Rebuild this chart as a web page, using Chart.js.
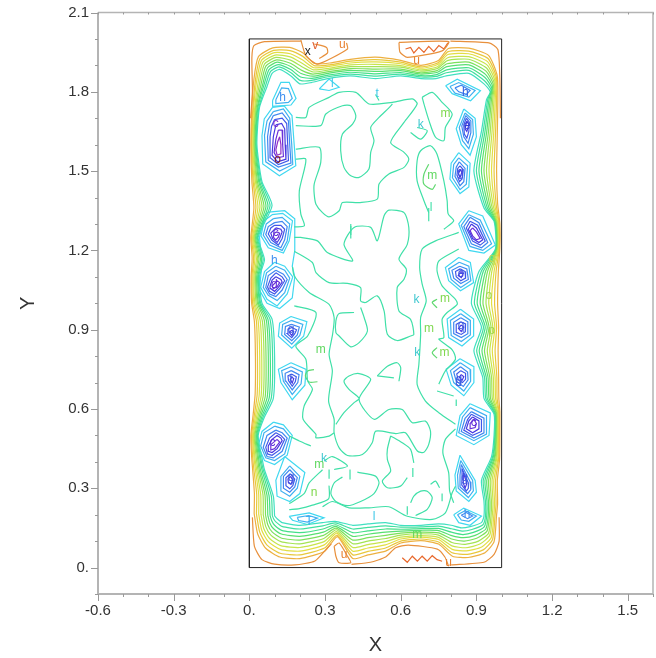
<!DOCTYPE html>
<html>
<head>
<meta charset="utf-8">
<title>Contour</title>
<script src="https://cdn.jsdelivr.net/npm/chart.js@4"></script>
<style>
body { margin: 0; background: #fff; }
</style>
</head>
<body>
<canvas id="chart" width="656" height="658"></canvas>
<script>
// axis ranges and labelled ticks
const xMin = -0.6, xMax = 1.6, yMin = -0.1, yMax = 2.1;
const xMajor = [-0.6, -0.3, 0, 0.3, 0.6, 0.9, 1.2, 1.5];
const yMajor = [0, 0.3, 0.6, 0.9, 1.2, 1.5, 1.8, 2.1];

const domainBox = [0,0, 1,0, 1,2, 0,2];

const edge0 = [
  [.204,1.992,.06,1.99,.018,1.975,.01,1.93,.012,1.8,.005,1.7],
  [.797,1.992,.95,1.985,.985,1.96,.993,1.85,.995,1.7],
  [.012,.19,.02,.08,.05,.03,.1,.013,.18,.01,.26,.025,.31,.075,.325,.09],
  [.405,.012,.48,.02,.54,.04,.58,.075,.63,.085,.745,.07,.775,.04,.79,.005],
  [.8,.01,.93,.02,.97,.05,.99,.1,.99,.19],
  [.204,1.996,.224,1.937,.27,1.905,.389,1.962,.385,1.985],
  [.257,1.981,.306,1.968,.31,1.947,.277,1.926],
  [.593,1.987,.79,1.99,.764,1.955,.626,1.93,.597,1.95,.593,1.987],
  [.336,.081,.356,.093,.389,.043,.402,.018,.356,.018,.343,.043,.336,.081]
];
const edgeRed = [
  [.619,1.962,.639,1.968,.652,1.947,.672,1.968,.692,1.949,.711,1.972,.731,1.952,.751,1.975,.771,1.962,.787,1.985],
  [.606,.037,.626,.02,.646,.043,.666,.024,.685,.043,.705,.024,.725,.045,.744,.03,.764,.024]
];
const edge1 = [[.019,.204,.020,.279,.013,.37,.009,.42,.006,.5,.015,.579,.023,.658,.024,.8,.02,.931,.009,1,.007,1.1,.011,1.17,.006,1.25,.018,1.361,.01,1.46,.006,1.6,.009,1.722,.018,1.847,.036,1.933,.093,1.966,.16,1.968,.213,1.947,.258,1.907,.319,1.909,.4,1.923,.5,1.931,.6,1.919,.68,1.9,.749,1.918,.789,1.964,.87,1.965,.948,1.938,.982,1.863,.985,1.779,.983,1.65,.98,1.5,.984,1.378,.993,1.301,.993,1.21,.987,1.12,.984,1,.988,.91,.986,.82,.988,.72,.989,.64,.993,.589,.993,.5,.992,.411,.983,.33,.984,.241,.98,.2,.97,.098,.934,.056,.867,.038,.805,.043,.75,.089,.68,.102,.6,.093,.54,.062,.47,.048,.41,.034,.349,.117,.299,.062,.2,.034,.121,.04,.065,.073,.033,.127]];
const edge2 = [[.028,.203,.029,.278,.018,.37,.013,.419,.009,.5,.02,.578,.031,.656,.032,.8,.028,.932,.013,1,.01,1.1,.017,1.169,.009,1.25,.026,1.362,.015,1.46,.008,1.6,.013,1.724,.024,1.844,.042,1.926,.096,1.957,.161,1.956,.212,1.934,.257,1.899,.318,1.902,.4,1.916,.5,1.922,.6,1.912,.68,1.894,.748,1.91,.788,1.952,.87,1.954,.946,1.926,.979,1.856,.98,1.778,.976,1.65,.97,1.5,.978,1.376,.99,1.302,.991,1.209,.978,1.12,.972,1,.98,.91,.974,.82,.981,.72,.982,.64,.99,.588,.99,.5,.988,.412,.976,.33,.978,.242,.974,.199,.964,.106,.927,.067,.864,.05,.804,.056,.75,.097,.68,.108,.6,.1,.54,.074,.47,.061,.41,.048,.348,.123,.298,.074,.2,.048,.122,.054,.07,.085,.041,.134]];
const edge3 = [[.037,.202,.037,.277,.024,.37,.018,.419,.013,.5,.025,.577,.039,.654,.041,.8,.035,.933,.018,1,.014,1.1,.022,1.169,.013,1.25,.034,1.363,.019,1.46,.011,1.6,.016,1.726,.029,1.841,.048,1.919,.099,1.948,.162,1.944,.21,1.921,.256,1.891,.317,1.896,.4,1.909,.5,1.913,.6,1.906,.68,1.889,.747,1.903,.787,1.941,.87,1.944,.944,1.914,.976,1.849,.975,1.777,.969,1.65,.96,1.5,.972,1.374,.988,1.303,.989,1.209,.97,1.12,.96,1,.973,.91,.963,.82,.974,.72,.976,.64,.988,.587,.988,.5,.985,.413,.969,.33,.972,.243,.969,.199,.959,.114,.921,.078,.861,.063,.804,.069,.75,.106,.68,.115,.6,.108,.54,.086,.47,.074,.41,.062,.347,.13,.297,.086,.2,.062,.123,.069,.075,.098,.049,.141]];
const edge4 = [[.046,.201,.045,.276,.029,.37,.022,.418,.016,.5,.03,.576,.047,.652,.049,.8,.043,.934,.022,1,.018,1.1,.028,1.168,.016,1.25,.042,1.364,.024,1.46,.014,1.6,.02,1.728,.035,1.838,.054,1.912,.102,1.939,.162,1.932,.209,1.908,.254,1.883,.316,1.889,.4,1.902,.5,1.904,.6,1.899,.68,1.883,.746,1.895,.786,1.929,.87,1.933,.942,1.902,.973,1.842,.97,1.776,.962,1.65,.95,1.5,.966,1.372,.985,1.304,.987,1.208,.961,1.12,.949,1,.965,.91,.953,.82,.967,.72,.969,.64,.985,.586,.985,.5,.981,.414,.962,.33,.966,.244,.963,.198,.953,.122,.914,.089,.858,.075,.803,.082,.75,.114,.68,.121,.6,.115,.54,.098,.47,.087,.41,.076,.346,.136,.296,.098,.2,.076,.124,.083,.08,.11,.057,.148]];
const edge5 = [[.055,.2,.054,.275,.034,.37,.027,.418,.019,.5,.035,.575,.055,.65,.058,.8,.051,.935,.027,1,.022,1.1,.033,1.168,.019,1.25,.05,1.365,.028,1.46,.017,1.6,.023,1.73,.041,1.835,.06,1.905,.105,1.93,.163,1.92,.208,1.895,.253,1.875,.315,1.883,.4,1.895,.5,1.895,.6,1.893,.68,1.878,.745,1.888,.785,1.918,.87,1.923,.94,1.89,.97,1.835,.965,1.775,.955,1.65,.94,1.5,.96,1.37,.983,1.305,.985,1.208,.953,1.12,.938,1,.958,.91,.943,.82,.96,.72,.963,.64,.983,.585,.983,.5,.978,.415,.955,.33,.96,.245,.958,.198,.948,.13,.908,.1,.855,.088,.803,.095,.75,.123,.68,.128,.6,.123,.54,.11,.47,.1,.41,.09,.345,.143,.295,.11,.2,.09,.125,.098,.085,.123,.065,.155]];
const edge6 = [[.064,.199,.062,.274,.039,.37,.032,.417,.022,.5,.04,.574,.063,.648,.066,.8,.059,.936,.032,1,.025,1.1,.038,1.167,.022,1.25,.058,1.366,.032,1.46,.019,1.6,.026,1.732,.047,1.832,.066,1.898,.108,1.921,.163,1.908,.206,1.882,.251,1.867,.314,1.876,.4,1.888,.5,1.886,.6,1.886,.68,1.872,.744,1.88,.784,1.906,.87,1.912,.938,1.878,.967,1.828,.96,1.774,.948,1.65,.93,1.5,.954,1.368,.98,1.306,.983,1.207,.944,1.12,.926,1,.95,.91,.932,.82,.953,.72,.956,.64,.98,.584,.98,.5,.974,.416,.948,.33,.954,.246,.952,.197,.942,.138,.901,.111,.852,.1,.802,.108,.75,.131,.68,.134,.6,.13,.54,.122,.47,.113,.41,.104,.344,.149,.294,.122,.2,.104,.126,.112,.09,.135,.073,.162]];
const edge7 = [[.073,.198,.07,.273,.044,.37,.036,.417,.026,.5,.045,.573,.071,.646,.075,.8,.067,.937,.036,1,.029,1.1,.044,1.167,.025,1.25,.066,1.367,.037,1.46,.022,1.6,.03,1.734,.053,1.829,.072,1.891,.111,1.912,.164,1.896,.205,1.869,.25,1.859,.313,1.87,.4,1.881,.5,1.877,.6,1.88,.68,1.867,.743,1.873,.783,1.895,.87,1.902,.936,1.866,.964,1.821,.955,1.773,.941,1.65,.92,1.5,.948,1.366,.978,1.307,.981,1.207,.936,1.12,.915,1,.943,.91,.922,.82,.946,.72,.95,.64,.978,.583,.978,.5,.971,.417,.941,.33,.948,.247,.947,.197,.937,.146,.895,.122,.849,.113,.802,.121,.75,.14,.68,.141,.6,.138,.54,.134,.47,.126,.41,.118,.343,.156,.293,.134,.2,.118,.127,.127,.095,.148,.081,.169]];
const edge8 = [[.082,.197,.078,.272,.05,.37,.041,.416,.029,.5,.05,.572,.079,.644,.083,.8,.074,.938,.041,1,.033,1.1,.049,1.166,.029,1.25,.074,1.368,.041,1.46,.025,1.6,.033,1.736,.058,1.826,.078,1.884,.114,1.903,.164,1.884,.203,1.856,.248,1.851,.312,1.863,.4,1.874,.5,1.868,.6,1.873,.68,1.861,.742,1.865,.782,1.883,.87,1.891,.934,1.854,.961,1.814,.95,1.772,.934,1.65,.91,1.5,.942,1.364,.975,1.308,.979,1.206,.927,1.12,.903,1,.935,.91,.911,.82,.939,.72,.943,.64,.975,.582,.975,.5,.967,.418,.934,.33,.942,.248,.941,.196,.931,.154,.888,.133,.846,.125,.801,.134,.75,.148,.68,.147,.6,.145,.54,.146,.47,.139,.41,.132,.342,.162,.292,.146,.2,.132,.128,.141,.1,.16,.089,.176]];
const edge9 = [[.091,.196,.087,.271,.055,.37,.045,.416,.032,.5,.055,.571,.087,.642,.092,.8,.082,.939,.045,1,.036,1.1,.055,1.166,.032,1.25,.082,1.369,.046,1.46,.027,1.6,.037,1.738,.064,1.823,.084,1.877,.117,1.894,.165,1.872,.202,1.843,.247,1.843,.311,1.857,.4,1.867,.5,1.859,.6,1.867,.68,1.856,.741,1.858,.781,1.872,.87,1.881,.932,1.842,.958,1.807,.945,1.771,.927,1.65,.9,1.5,.936,1.362,.973,1.309,.977,1.206,.919,1.12,.892,1,.928,.91,.901,.82,.932,.72,.937,.64,.973,.581,.973,.5,.964,.419,.927,.33,.936,.249,.936,.196,.926,.162,.882,.144,.843,.138,.801,.147,.75,.157,.68,.154,.6,.153,.54,.158,.47,.152,.41,.146,.341,.169,.291,.158,.2,.146,.129,.156,.105,.173,.097,.183]];
const edge10 = [[.10,.195,.095,.27,.06,.37,.05,.415,.035,.5,.06,.57,.095,.64,.1,.8,.09,.94,.05,1,.04,1.1,.06,1.165,.035,1.25,.09,1.37,.05,1.46,.03,1.6,.04,1.74,.07,1.82,.09,1.87,.12,1.885,.165,1.86,.2,1.83,.245,1.835,.31,1.85,.4,1.86,.5,1.85,.6,1.86,.68,1.85,.74,1.85,.78,1.86,.87,1.87,.93,1.83,.955,1.8,.94,1.77,.92,1.65,.89,1.5,.93,1.36,.97,1.31,.975,1.205,.91,1.12,.88,1,.92,.91,.89,.82,.925,.72,.93,.64,.97,.58,.97,.5,.96,.42,.92,.33,.93,.25,.93,.195,.92,.17,.875,.155,.84,.15,.80,.16,.75,.165,.68,.16,.6,.16,.54,.17,.47,.165,.41,.16,.34,.175,.29,.17,.2,.16,.13,.17,.11,.185,.105,.19]];

// the meandering lines in the middle of the box
const inner = [
  [.184,1.703,.224,1.703,.237,1.741,.316,1.779,.356,1.798,.422,1.798,.474,1.754,.567,1.76,.646,1.773,.665,1.754,.613,1.684,.56,1.608,.613,1.571,.632,1.545,.613,1.514,.553,1.489,.514,1.451,.507,1.394,.435,1.381,.369,1.381,.356,1.35,.316,1.327,.29,1.343,.264,1.375,.257,1.413,.257,1.451,.283,1.533,.277,1.59,.184,1.583],
  [.184,1.672,.283,1.672,.303,1.716,.369,1.747,.402,1.747,.422,1.71,.409,1.678,.369,1.64,.362,1.577,.375,1.514,.402,1.482,.435,1.476,.474,1.508,.481,1.571,.494,1.615,.481,1.665,.514,1.703,.553,1.739,.567,1.754],
  [.184,1.545,.224,1.545,.198,1.425,.204,1.337,.218,1.293,.178,1.289],
  [.685,1.779,.725,1.798,.764,1.76,.804,1.716,.777,1.665,.771,1.615,.738,1.628,.712,1.691,.692,1.754,.685,1.779],
  [.711,1.343,.692,1.388,.665,1.463,.665,1.539,.679,1.577,.718,1.596,.744,1.564,.771,1.463,.784,1.388,.788,1.338,.81,1.312,.771,1.28],
  [.83,1.268,.738,1.236,.685,1.205,.675,1.135,.685,1.072,.701,1.009,.679,.946,.679,.883,.672,.769,.665,.693,.698,.63,.751,.586,.817,.542],
  [.178,1.249,.204,1.249,.27,1.236,.309,1.192,.409,1.16,.375,1.223,.415,1.287,.481,1.287,.507,1.236,.534,1.331,.553,1.352,.613,1.343,.632,1.287,.626,1.223,.593,1.167,.622,1.129,.613,1.091,.586,1.059,.593,.971,.639,.939,.652,.882,.639,.876,.586,.859,.547,.883,.534,.971,.507,1.028,.461,1.003,.441,1.009,.441,1.059,.389,1.075,.316,1.078,.264,1.116,.25,1.154,.178,1.197],
  [.171,1.138,.178,1.103,.237,1.041,.316,.996,.336,.946,.33,.883,.316,.807,.329,.744,.314,.63,.336,.561,.336,.51,.356,.453,.389,.424,.448,.428,.487,.472,.501,.516,.58,.507,.619,.51,.666,.441,.692,.436,.711,.466,.718,.516,.698,.554,.646,.548,.606,.598,.553,.598,.494,.561,.435,.636,.481,.712,.435,.734,.395,.725,.375,.706,.395,.674,.435,.64,.415,.624,.375,.586,.343,.542],
  [.178,.99,.264,.965,.231,.876,.184,.838,.224,.788,.231,.706,.25,.674,.217,.611,.213,.561,.264,.504,.264,.491,.316,.497,.336,.51],
  [.158,.498,.198,.479,.244,.46],
  [.415,.965,.356,.961,.343,.933,.343,.889,.356,.876,.402,.835,.435,.851,.468,.895,.455,.946,.441,.984],
  [.507,.725,.547,.762,.586,.775,.6,.756,.593,.705],
  [.507,.725,.573,.718],
  [.56,.498,.547,.447,.547,.409,.56,.365,.527,.327,.547,.302,.599,.308,.626,.34],
  [.56,.498,.606,.472,.639,.447,.652,.396],
  [.648,.377,.648,.343],
  [.369,.343,.336,.32,.323,.28,.343,.25,.389,.234,.441,.25,.494,.28,.514,.32,.5,.346,.428,.361],
  [.399,.371,.399,.333],
  [.316,.371,.316,.336],
  [.296,.403,.329,.42,.389,.384,.336,.371],
  [.29,.37,.237,.32,.217,.28,.158,.242],
  [.316,.31,.314,.26,.25,.236,.198,.223,.158,.219],
  [.29,.23,.329,.25,.395,.226,.474,.226,.553,.23,.626,.194,.725,.182,.777,.207,.804,.283,.817,.308],
  [.817,.525,.777,.485,.767,.434,.79,.359,.794,.289,.81,.245],
  [.639,.245,.652,.27,.679,.289,.705,.289,.725,.264,.705,.22,.659,.197],
  [.626,.232,.626,.2],
  [.718,.315,.738,.327,.754,.302],
  [.764,.28,.764,.251],
  [.639,1.646,.679,1.621,.705,1.653,.665,1.665],
  [.83,1.205,.751,1.16,.744,1.122,.764,1.066,.817,1.015,.824,.996,.784,.965,.764,.939,.771,.87,.751,.864,.804,.824,.817,.788,.777,.744,.751,.694],
  [.744,.668,.81,.649],
  [.82,.636,.82,.611],
  [.711,1.36,.711,1.31],
  [.402,1.3,.402,1.245],
  [.5,1.79,.514,1.767]
];
const innerGreen = [
  [.711,1.526,.692,1.488,.692,1.45,.725,1.431,.738,1.45],
  [.256,.749,.231,.744,.222,.725,.237,.702,.27,.703],
  [.744,.832,.725,.813,.744,.792],
  [.744,1.015,.725,1.003,.744,.983]
];

// rings around the peaks, outside to inside
const ring1 = [
  [.092,1.741,.138,1.747,.169,1.71,.178,1.596,.184,1.52,.119,1.482,.053,1.527,.05,1.634,.059,1.697],
  [.09,1.335,.132,1.34,.171,1.312,.158,1.236,.135,1.19,.075,1.21,.046,1.255,.059,1.312],
  [.1,1.155,.14,1.14,.172,1.1,.15,1.035,.11,.99,.07,1.015,.045,1.06,.06,1.12],
  [.095,.55,.135,.54,.17,.5,.15,.425,.1,.39,.06,.405,.035,.46,.05,.515],
  [.87,1.35,.925,1.33,.975,1.22,.93,1.19,.87,1.2,.83,1.3],
  [.875,.62,.955,.585,.95,.5,.89,.465,.82,.5,.835,.575],
  [.165,.95,.228,.93,.215,.875,.168,.83,.115,.875,.12,.925],
  [.165,.775,.225,.75,.22,.69,.17,.635,.125,.7,.115,.75],
  [.14,.42,.22,.36,.2,.28,.16,.25,.11,.27,.105,.33],
  [.85,1.735,.895,1.7,.9,1.63,.875,1.56,.84,1.6,.82,1.66],
  [.83,1.57,.875,1.53,.87,1.44,.835,1.415,.795,1.47,.8,1.53],
  [.83,1.173,.876,1.154,.889,1.078,.837,1.047,.79,1.085,.777,1.135],
  [.837,.977,.889,.94,.889,.876,.843,.838,.79,.87,.784,.94],
  [.835,.79,.89,.76,.89,.7,.85,.65,.8,.69,.78,.75],
  [.835,.425,.895,.33,.9,.285,.87,.25,.82,.29,.815,.35],
  [.81,.2,.85,.225,.92,.195,.875,.16,.83,.17],
  [.778,1.823,.824,1.848,.916,1.804,.877,1.766,.804,1.793],
  [.092,1.767,.125,1.836,.158,1.836,.185,1.775,.165,1.75,.09,1.745],
  [.158,.194,.237,.207,.296,.188,.23,.163,.171,.179],
  [.277,1.811,.316,1.848,.356,1.817,.316,1.805],
  [.075,1.345,.14,1.35,.18,1.32,.18,1.2,.17,1.14,.18,1.1,.17,1.02,.12,.98,.07,1,.04,1.05,.05,1.15,.04,1.25,.06,1.33]
];
const ring2 = [
  [.095,1.725,.135,1.735,.16,1.7,.168,1.6,.172,1.525,.12,1.5,.065,1.535,.06,1.635,.07,1.69],
  [.095,1.32,.13,1.325,.16,1.3,.15,1.235,.13,1.2,.08,1.22,.055,1.258,.067,1.3],
  [.105,1.14,.14,1.125,.16,1.095,.14,1.04,.11,1.01,.075,1.03,.055,1.06,.068,1.115],
  [.1,.535,.135,.525,.16,.495,.14,.43,.1,.405,.065,.415,.045,.46,.058,.51],
  [.87,1.335,.915,1.315,.96,1.225,.925,1.2,.875,1.215,.84,1.295],
  [.875,.605,.94,.575,.94,.505,.89,.48,.83,.51,.845,.57],
  [.166,.935,.212,.92,.2,.878,.168,.845,.128,.88,.132,.92],
  [.165,.76,.21,.74,.205,.695,.17,.655,.135,.705,.128,.745],
  [.16,.385,.2,.345,.19,.3,.16,.27,.125,.29,.125,.345],
  [.855,1.72,.885,1.695,.888,1.64,.87,1.585,.845,1.615,.832,1.665],
  [.83,1.55,.865,1.52,.86,1.45,.835,1.43,.805,1.475,.81,1.525],
  [.832,1.155,.87,1.14,.878,1.085,.838,1.06,.8,1.09,.79,1.13],
  [.838,.96,.876,.935,.876,.88,.84,.855,.8,.878,.797,.935],
  [.836,.775,.875,.75,.877,.705,.85,.668,.81,.7,.797,.745],
  [.838,.405,.885,.33,.888,.29,.868,.265,.828,.3,.825,.35],
  [.825,.2,.855,.215,.9,.195,.87,.175,.84,.18],
  [.795,1.82,.83,1.835,.895,1.805,.87,1.78,.815,1.795],
  [.105,1.77,.128,1.815,.155,1.812,.17,1.775,.155,1.76,.105,1.755],
  [.19,.19,.235,.197,.27,.187,.23,.172,.195,.178]
];
const ring3 = [
  [.095,1.71,.13,1.72,.155,1.69,.16,1.6,.165,1.53,.115,1.515,.075,1.54,.072,1.63,.08,1.68],
  [.1,1.305,.13,1.31,.15,1.29,.14,1.24,.125,1.21,.085,1.23,.065,1.26,.075,1.29],
  [.105,1.125,.135,1.11,.15,1.09,.13,1.05,.105,1.025,.08,1.035,.065,1.06,.075,1.105],
  [.105,.52,.13,.51,.15,.49,.13,.44,.095,.415,.07,.42,.055,.455,.07,.5],
  [.875,1.325,.91,1.305,.945,1.23,.92,1.21,.88,1.225,.85,1.29],
  [.88,.59,.93,.565,.93,.51,.89,.49,.84,.515,.855,.565],
  [.167,.92,.198,.91,.19,.88,.168,.858,.14,.882,.143,.912],
  [.166,.745,.197,.73,.192,.7,.17,.672,.145,.705,.142,.735],
  [.16,.37,.19,.34,.18,.305,.16,.285,.135,.3,.135,.345],
  [.858,1.71,.878,1.69,.878,1.645,.867,1.605,.85,1.63,.842,1.67],
  [.832,1.535,.855,1.51,.85,1.46,.835,1.445,.815,1.48,.82,1.515],
  [.834,1.14,.862,1.13,.868,1.09,.838,1.075,.81,1.095,.803,1.125],
  [.838,.945,.866,.93,.866,.885,.84,.87,.81,.885,.81,.928],
  [.837,.76,.865,.74,.867,.71,.848,.685,.82,.705,.81,.74],
  [.84,.39,.875,.325,.878,.295,.865,.28,.835,.305,.835,.35],
  [.84,.198,.86,.208,.885,.195,.865,.185],
  [.815,1.815,.84,1.825,.875,1.805,.86,1.79,.83,1.8]
];
const ring4 = [
  [.1,1.695,.13,1.7,.148,1.68,.152,1.6,.155,1.54,.115,1.525,.083,1.55,.082,1.63,.088,1.67],
  [.1,1.295,.125,1.295,.14,1.28,.13,1.245,.115,1.22,.09,1.238,.075,1.262,.085,1.285],
  [.105,1.115,.13,1.1,.14,1.085,.12,1.055,.1,1.035,.08,1.045,.072,1.062,.085,1.095],
  [.105,.51,.125,.5,.14,.485,.12,.445,.09,.425,.072,.43,.065,.455,.08,.49],
  [.875,1.31,.905,1.295,.935,1.235,.915,1.22,.885,1.235,.86,1.285],
  [.88,.58,.92,.56,.92,.515,.885,.5,.85,.52,.865,.56],
  [.168,.908,.187,.9,.18,.885,.168,.87,.15,.885,.153,.902],
  [.167,.732,.186,.722,.182,.703,.17,.686,.155,.708,.153,.725],
  [.162,.355,.18,.335,.172,.31,.16,.298,.145,.31,.145,.34],
  [.86,1.7,.872,1.685,.87,1.65,.862,1.625,.852,1.64,.85,1.675],
  [.835,1.52,.848,1.505,.843,1.47,.833,1.46,.823,1.485,.826,1.51],
  [.836,1.13,.855,1.12,.857,1.095,.838,1.085,.82,1.1,.817,1.12],
  [.838,.93,.857,.922,.856,.892,.84,.882,.82,.89,.82,.92],
  [.838,.745,.857,.735,.857,.712,.845,.7,.828,.71,.822,.732],
  [.843,.375,.868,.32,.868,.3,.86,.29,.842,.312,.843,.35]
];
const ring5 = [
  [.105,1.675,.128,1.68,.14,1.66,.142,1.6,.145,1.545,.112,1.535,.09,1.56,.095,1.63],
  [.105,1.285,.125,1.28,.13,1.27,.12,1.245,.11,1.23,.092,1.245,.085,1.265],
  [.105,1.1,.125,1.09,.13,1.08,.115,1.06,.1,1.045,.085,1.055,.082,1.065,.09,1.088],
  [.11,.5,.125,.49,.13,.48,.11,.45,.09,.435,.075,.44,.075,.46,.09,.485],
  [.88,1.3,.9,1.285,.925,1.24,.91,1.23,.885,1.245,.868,1.28],
  [.885,.57,.91,.555,.91,.525,.885,.51,.86,.525,.87,.555],
  [.168,.898,.176,.893,.168,.878,.158,.89],
  [.168,.72,.176,.715,.17,.698,.162,.712],
  [.163,.345,.172,.332,.165,.315,.155,.32,.153,.335],
  [.862,1.69,.87,1.675,.862,1.65,.855,1.66],
  [.836,1.507,.842,1.495,.835,1.475,.829,1.49],
  [.838,1.12,.848,1.112,.84,1.097,.828,1.105],
  [.84,.918,.85,.91,.84,.893,.829,.905],
  [.84,.73,.85,.722,.843,.708,.832,.72],
  [.848,.36,.862,.318,.855,.3,.848,.32]
];
const ring6 = [
  [.115,1.655,.13,1.655,.132,1.6,.135,1.555,.11,1.55,.098,1.57,.105,1.62],
  [.11,1.27,.12,1.265,.115,1.25,.105,1.24,.095,1.25,.098,1.265],
  [.11,1.085,.12,1.078,.11,1.062,.095,1.055,.09,1.065],
  [.11,.485,.12,.475,.1,.45,.085,.445,.085,.465],
  [.885,1.285,.9,1.27,.915,1.245,.9,1.24,.885,1.255,.875,1.275],
  [.89,.56,.9,.545,.895,.53,.875,.525,.875,.545]
];
const ring7 = [
  [.12,1.63,.125,1.6,.125,1.565,.11,1.56,.105,1.58,.112,1.61]
];

// contour letters
const labelText = ['h','c','o','x','v','u','u','l','t','h','m','k','m','l','e','g','h','c','d','q','m','f','e','k','m','q','m','k','m','o','p','q','g','c','g','k','m','l','n','T','l','u','d','c','g','h','m','u'];
const labelX = [.132,.105,.112,.231,.261,.369,.663,.329,.507,.856,.777,.679,.725,.72,.863,.837,.099,.105,.099,.165,.283,.165,.839,.663,.775,.839,.712,.665,.774,.949,.96,.962,.83,.092,.165,.296,.277,.402,.257,.237,.494,.375,.829,.889,.853,.863,.665,.79];
const labelY = [1.779,1.678,1.542,1.952,1.975,1.979,1.918,1.83,1.792,1.798,1.716,1.675,1.482,1.36,1.672,1.495,1.16,1.268,1.072,.9,.826,.712,1.11,1.015,1.017,.914,.905,.813,.813,1.03,.895,1.167,.712,.472,.34,.412,.39,1.27,.283,.175,.194,.049,.70,.548,.34,.2,.125,.018];
const labelColor = ['#4090f0','#8030d0','#802020','#222222','#e06030','#e88030','#e88030','#40c8e8','#40c8e8','#3060e0','#80d850','#40c8d0','#60d860','#40e0a8','#3040d8','#4050e0','#4090f0','#6030d8','#6030d8','#4060e0','#60d860','#4060e0','#4050e0','#40c8d0','#80d850','#4060e0','#80d850','#40c8d0','#80d850','#a0d850','#a0d850','#c0d850','#4060e0','#6030d8','#4060e0','#40c8d0','#60d860','#40e0a8','#80d850','#40b0f0','#40c8e8','#e88030','#4060e0','#6030d8','#4060e0','#4090f0','#60d860','#e88030'];

const groups = [
  { lines: edge0, color: '#e8903c', closed: false, tension: 0.2 },
  { lines: edgeRed, color: '#e8682c', closed: false, tension: 0 },
  { lines: edge1, color: '#edb040', closed: true, tension: 0.2 },
  { lines: edge2, color: '#e8c83c', closed: true, tension: 0.2 },
  { lines: edge3, color: '#e2de44', closed: true, tension: 0.2 },
  { lines: edge4, color: '#c8e44c', closed: true, tension: 0.2 },
  { lines: edge5, color: '#a4e454', closed: true, tension: 0.2 },
  { lines: edge6, color: '#7ce05c', closed: true, tension: 0.2 },
  { lines: edge7, color: '#58e070', closed: true, tension: 0.2 },
  { lines: edge8, color: '#44e088', closed: true, tension: 0.2 },
  { lines: edge9, color: '#40e0a0', closed: true, tension: 0.2 },
  { lines: edge10, color: '#40e0c0', closed: true, tension: 0.2 },
  { lines: inner, color: '#40e0a8', closed: false, tension: 0.25 },
  { lines: innerGreen, color: '#60d870', closed: false, tension: 0.25 },
  { lines: ring1, color: '#40d8f0', closed: true, tension: 0 },
  { lines: ring2, color: '#40b0f0', closed: true, tension: 0 },
  { lines: ring3, color: '#4088f0', closed: true, tension: 0 },
  { lines: ring4, color: '#4058e8', closed: true, tension: 0 },
  { lines: ring5, color: '#4838e0', closed: true, tension: 0 },
  { lines: ring6, color: '#6a30d8', closed: true, tension: 0 },
  { lines: ring7, color: '#9030c8', closed: true, tension: 0 }
];

function toPoints(flat, closed) {
  var pts = [];
  for (var i = 0; i < flat.length; i += 2) {
    pts.push({ x: flat[i], y: flat[i + 1] });
  }
  if (closed) pts.push(pts[0]);
  return pts;
}

var datasets = [];
groups.forEach(function(g) {
  g.lines.forEach(function(flat) {
    datasets.push({ data: toPoints(flat, g.closed), borderColor: g.color, borderWidth: 1.2, tension: g.tension });
  });
});
datasets.push({ data: toPoints(domainBox, true), borderColor: '#222222', borderWidth: 1, tension: 0 });

function isMajor(v, list) {
  return list.some(function(m) { return Math.abs(m - v) < 1e-6; });
}

// mathematica style frame: minor ticks at every 0.1, letters on the contours
const framePlugin = {
  id: 'framePlugin',
  afterDraw: function(chart) {
    var c = chart.ctx, a = chart.chartArea;
    var sx = chart.scales.x, sy = chart.scales.y;
    c.save();
    c.strokeStyle = '#b4b4b4';
    c.lineWidth = 2;
    c.beginPath();
    c.moveTo(a.left, a.top); c.lineTo(a.left, a.bottom); c.lineTo(a.right, a.bottom);
    c.stroke();
    c.lineWidth = 1.5;
    c.beginPath();
    c.moveTo(a.left, a.top); c.lineTo(a.right, a.top); c.lineTo(a.right, a.bottom);
    c.stroke();
    c.lineWidth = 1;
    c.strokeStyle = '#999999';
    c.beginPath();
    for (var i = 0; i <= 22; i++) {
      var xv = xMin + i * 0.1, yv = yMin + i * 0.1;
      var px = Math.round(sx.getPixelForValue(xv)) + 0.5, py = Math.round(sy.getPixelForValue(yv)) + 0.5;
      var lx = isMajor(xv, xMajor) ? 7 : 3, ly = isMajor(yv, yMajor) ? 7 : 3;
      c.moveTo(px, a.bottom); c.lineTo(px, a.bottom + lx);
      c.moveTo(px, a.top); c.lineTo(px, a.top + 2);
      c.moveTo(a.left, py); c.lineTo(a.left - ly, py);
    }
    c.stroke();
    c.font = '12px "Liberation Sans"';
    c.textAlign = 'center';
    c.textBaseline = 'middle';
    labelText.forEach(function(t, i) {
      c.fillStyle = labelColor[i];
      c.fillText(t, sx.getPixelForValue(labelX[i]), sy.getPixelForValue(labelY[i]));
    });
    c.restore();
  }
};

new Chart(document.getElementById('chart'), {
  type: 'scatter',
  data: { datasets: datasets },
  plugins: [framePlugin],
  options: {
    responsive: false,
    animation: false,
    showLine: true,
    layout: { padding: { top: 12.5, right: 3 } },
    elements: { point: { radius: 0 } },
    plugins: { legend: { display: false }, tooltip: { enabled: false } },
    scales: {
      x: {
        type: 'linear', min: xMin, max: xMax,
        afterFit: function(s) { s.height = 64; s.paddingLeft = 0; s.paddingRight = 0; },
        grid: { display: false },
        border: { display: false },
        ticks: {
          stepSize: 0.1, autoSkip: false, maxRotation: 0, padding: 0,
          color: '#333333', font: { family: 'Liberation Sans', size: 15 },
          callback: function(v) {
            if (!isMajor(v, xMajor)) return '';
            return Math.abs(v) < 1e-6 ? '0.' : v.toFixed(1);
          }
        },
        title: { display: true, text: 'X', color: '#333333', font: { family: 'Liberation Sans', size: 20 }, padding: { top: 10, bottom: 1 } }
      },
      y: {
        type: 'linear', min: yMin, max: yMax,
        afterFit: function(s) { s.width = 98; s.paddingTop = 0; s.paddingBottom = 0; },
        grid: { display: false },
        border: { display: false },
        ticks: {
          stepSize: 0.1, autoSkip: false, padding: 1,
          color: '#333333', font: { family: 'Liberation Sans', size: 15 },
          callback: function(v) {
            if (!isMajor(v, yMajor)) return '';
            return Math.abs(v) < 1e-6 ? '0.' : v.toFixed(1);
          }
        },
        title: { display: true, text: 'Y', color: '#333333', font: { family: 'Liberation Sans', size: 20 }, padding: { top: 16, bottom: 0 } }
      }
    }
  }
});
</script>
</body>
</html>
